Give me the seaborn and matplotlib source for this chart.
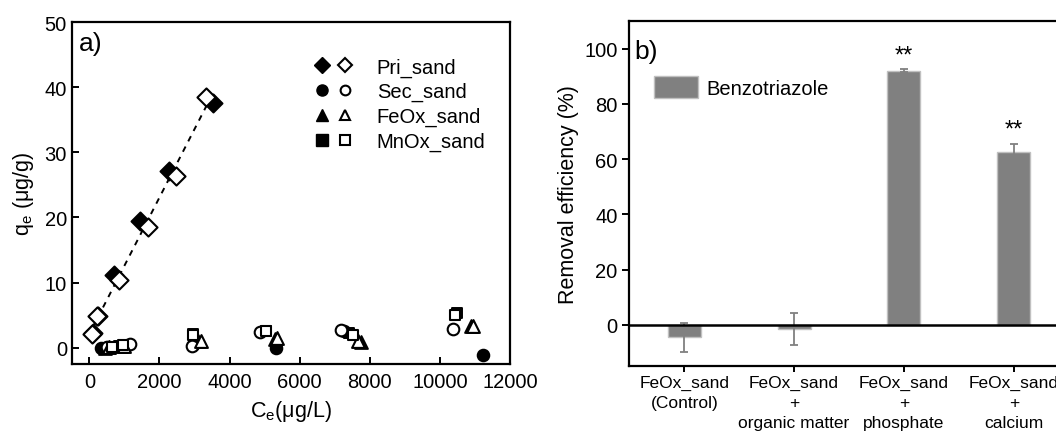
import numpy as np
import pandas as pd
import matplotlib
matplotlib.use('Agg')
import matplotlib.pyplot as plt
import seaborn as sns
from matplotlib.lines import Line2D
from matplotlib.patches import Patch
from matplotlib.legend_handler import HandlerTuple

# ---- panel a: isotherm data (filled = run 1, open = run 2) ----
sorbents = ['Pri_sand', 'Sec_sand', 'FeOx_sand', 'MnOx_sand']
markers = ['D', 'o', '^', 's']

pri_ce_filled = [100, 250, 714, 1457, 2286, 3514]
pri_qe_filled = [2.2, 4.9, 11.2, 19.4, 27.2, 37.6]
pri_ce_open = [86, 230, 857, 1686, 2486, 3314]
pri_qe_open = [2.1, 4.9, 10.4, 18.5, 26.3, 38.5]

sec_ce_filled = [330, 1000, 2950, 5314, 7250, 11229]
sec_qe_filled = [0.0, 0.3, 0.4, 0.0, 2.6, -1.1]
sec_ce_open = [500, 1150, 2914, 4857, 7171, 10371]
sec_qe_open = [0.1, 0.5, 0.3, 2.4, 2.75, 2.9]

feox_ce_filled = [450, 900, 3100, 5300, 7743, 10900]
feox_qe_filled = [0.0, 0.2, 1.0, 1.4, 0.9, 3.4]
feox_ce_open = [550, 1000, 3171, 5343, 7650, 10943]
feox_qe_open = [0.1, 0.3, 1.1, 1.5, 1.1, 3.4]

mnox_ce_filled = [500, 850, 2950, 5050, 7400, 10486]
mnox_qe_filled = [0.0, 0.3, 2.1, 2.5, 2.3, 5.3]
mnox_ce_open = [650, 950, 2971, 5029, 7514, 10420]
mnox_qe_open = [0.1, 0.4, 2.0, 2.6, 2.0, 5.0]

# ---- panel b: removal efficiency ----
conditions = ['FeOx_sand\n(Control)', 'FeOx_sand\n+\norganic matter',
              'FeOx_sand\n+\nphosphate', 'FeOx_sand\n+\ncalcium']
removal = [-4.6, -1.5, 92.0, 62.7]
removal_err = [5.1, 5.8, 0.5, 2.9]
signif = ['', '', '**', '**']

sns.set_style('ticks')
plt.rcParams['font.family'] = ['Liberation Sans', 'DejaVu Sans']
plt.rcParams['mathtext.fontset'] = 'custom'
plt.rcParams['mathtext.rm'] = 'Liberation Sans'
for key in ['text.color', 'axes.labelcolor', 'xtick.color', 'ytick.color', 'axes.edgecolor']:
    plt.rcParams[key] = 'black'
plt.rcParams['axes.linewidth'] = 1.6
plt.rcParams['xtick.major.width'] = 1.4
plt.rcParams['ytick.major.width'] = 1.4

fig = plt.figure(figsize=(10.56, 4.35), dpi=100)
ax1 = fig.add_axes([0.068, 0.161, 0.415, 0.786])
ax2 = fig.add_axes([0.596, 0.156, 0.416, 0.793])

series = [
    (pri_ce_filled, pri_qe_filled, pri_ce_open, pri_qe_open),
    (sec_ce_filled, sec_qe_filled, sec_ce_open, sec_qe_open),
    (feox_ce_filled, feox_qe_filled, feox_ce_open, feox_qe_open),
    (mnox_ce_filled, mnox_qe_filled, mnox_ce_open, mnox_qe_open),
]
sizes = {'D': 85, 'o': 70, '^': 85, 's': 62}

# linear fit through the Pri_sand points
pri_df = pd.DataFrame({'Ce': pri_ce_filled + pri_ce_open,
                       'qe': pri_qe_filled + pri_qe_open})
sns.regplot(data=pri_df, x='Ce', y='qe', ci=None, scatter=False, ax=ax1,
            line_kws=dict(color='black', ls=(0, (3, 3)), lw=1.4))

for (cf, qf, co, qo), m in zip(series, markers):
    sns.scatterplot(x=cf, y=qf, marker=m, s=sizes[m], color='black',
                    edgecolor='black', linewidth=1.4, ax=ax1, zorder=3)
    sns.scatterplot(x=co, y=qo, marker=m, s=sizes[m], color='white',
                    edgecolor='black', linewidth=1.5, ax=ax1, zorder=4)

ax1.set_xlim(-500, 12000)
ax1.set_ylim(-2.5, 50)
ax1.set_xticks(range(0, 12001, 2000))
ax1.set_yticks(range(0, 51, 10))
ax1.tick_params(labelsize=14.5, direction='in', length=5)
ax1.tick_params(axis='x', pad=6)
ax1.set_xlabel('C$_\\mathrm{e}$(μg/L)', fontsize=15.5, labelpad=5)
ax1.set_ylabel('q$_\\mathrm{e}$ (μg/g)', fontsize=15.5, labelpad=6)
ax1.text(0.015, 0.975, 'a)', transform=ax1.transAxes, fontsize=19,
         va='top', ha='left')

handles = []
for m in markers:
    h_f = Line2D([], [], marker=m, ls='none', color='black', markersize=8)
    h_o = Line2D([], [], marker=m, ls='none', markerfacecolor='white',
                 markeredgecolor='black', markeredgewidth=1.5, markersize=7)
    handles.append((h_f, h_o))
ax1.legend(handles, sorbents, handler_map={tuple: HandlerTuple(ndivide=None, pad=0.2)},
           loc='upper left', bbox_to_anchor=(0.51, 0.95), frameon=False,
           fontsize=14.5, handlelength=2.0, handletextpad=1.15, labelspacing=0.28)

# ---- panel b ----
bar_df = pd.DataFrame({'condition': conditions, 'removal': removal})
sns.barplot(data=bar_df, x='condition', y='removal', order=conditions,
            color='#808080', saturation=1, width=0.3, errorbar=None,
            edgecolor='#c0c0c0', linewidth=1, ax=ax2)
ax2.errorbar(range(len(conditions)), removal, yerr=removal_err, fmt='none',
             ecolor='#808080', elinewidth=1.3, capsize=3, capthick=1.3)
ax2.axhline(0, color='black', lw=1.8, zorder=5)
for i, (v, e, s) in enumerate(zip(removal, removal_err, signif)):
    if s:
        ax2.text(i, v + e + 5.0, s, ha='center', va='center', fontsize=17)

ax2.set_xlim(-0.5, 3.5)
ax2.set_ylim(-15, 110)
ax2.set_yticks(range(0, 101, 20))
ax2.tick_params(axis='y', labelsize=14.5, direction='out', length=5)
ax2.tick_params(axis='x', labelsize=12.5, direction='out', length=4, pad=2)
for lab in ax2.get_xticklabels():
    lab.set_linespacing(1.45)
ax2.set_xlabel('')
ax2.set_ylabel('Removal efficiency (%)', fontsize=15.5)
ax2.text(0.012, 0.915, 'b)', transform=ax2.transAxes, fontsize=19,
         va='center', ha='left')
ax2.legend([Patch(facecolor='#808080', edgecolor='#c0c0c0')], ['Benzotriazole'],
           loc='upper left', bbox_to_anchor=(0.055, 0.84), frameon=False,
           borderpad=0, borderaxespad=0,
           fontsize=14.5, handlelength=2.2, handleheight=1.3, handletextpad=0.4)

fig.savefig('out.png', dpi=100)
